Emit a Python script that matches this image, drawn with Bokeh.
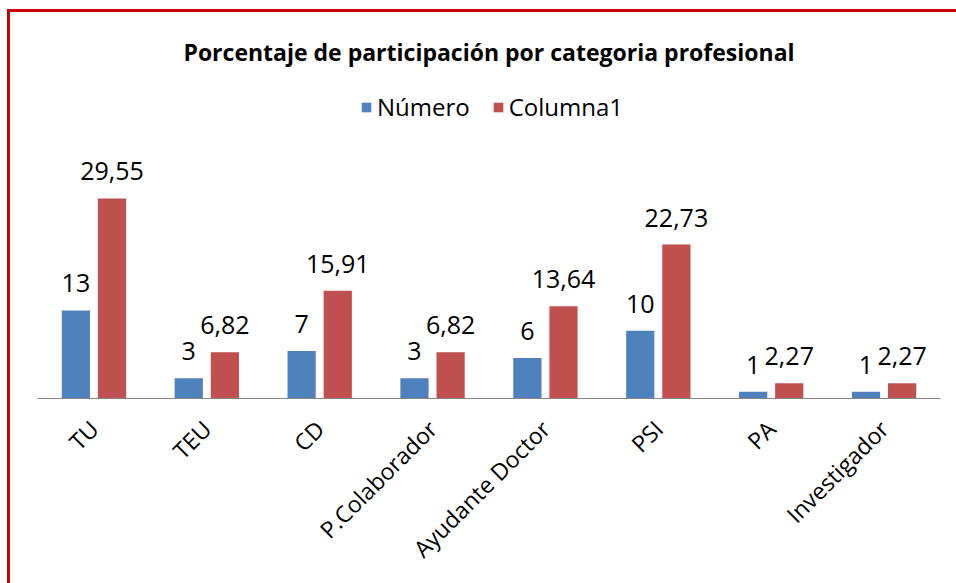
from bokeh.plotting import figure
from bokeh.models import ColumnDataSource, FactorRange
from bokeh.transform import dodge
from bokeh.core.properties import value
from bokeh.embed import file_html
from bokeh.resources import INLINE
import math

categories = ["TU", "TEU", "CD", "P.Colaborador", "Ayudante Doctor", "PSI", "PA", "Investigador"]
numero = [13, 3, 7, 3, 6, 10, 1, 1]
columna1 = [29.55, 6.82, 15.91, 6.82, 13.64, 22.73, 2.27, 2.27]

def fmt(v):
    s = ("%.2f" % v) if isinstance(v, float) else str(v)
    return s.replace(".", ",")

src = ColumnDataSource(dict(
    cat=categories,
    numero=numero,
    columna1=columna1,
    lbl_num=[fmt(v) for v in numero],
    lbl_col=[fmt(v) for v in columna1],
))

W, H = 960, 580
FL, FR, FB, FT = 27, 930, 386, 60
px_per_unit = 6.77
y_end = (FB - FT) / px_per_unit

FONT = value("Open Sans")
BLUE = "#4F81BD"
RED = "#C0504D"

p = figure(x_range=FactorRange(*categories), y_range=(0, y_end),
           width=W, height=H, output_backend="svg", toolbar_location=None,
           min_border_left=FL, min_border_right=W - FR,
           min_border_bottom=H - FB, min_border_top=FT,
           title="Porcentaje de participación por categoria profesional")
p.styles = {"margin-top": "12px", "margin-left": "10px",
            "box-shadow": "-3px -3px 0px 0px #CC0000"}

p.title.text_font = "Open Sans"
p.title.text_font_style = "bold"
p.title.text_font_size = "23px"
p.title.align = "center"
p.title.text_color = "#000000"

p.vbar(x=dodge("cat", -0.16, range=p.x_range), top="numero", width=0.25,
       source=src, color=BLUE, line_color=None, legend_label="Número")
p.vbar(x=dodge("cat", 0.16, range=p.x_range), top="columna1", width=0.25,
       source=src, color=RED, line_color=None, legend_label="Columna1")

p.text(x=dodge("cat", -0.16, range=p.x_range), y="numero", text="lbl_num", source=src,
       text_font=FONT, text_font_size="25px", text_align="center",
       text_baseline="alphabetic", y_offset=-27, text_color="#000000")
p.text(x=dodge("cat", 0.16, range=p.x_range), y="columna1", text="lbl_col", source=src,
       text_font=FONT, text_font_size="25px", text_align="center",
       text_baseline="alphabetic", y_offset=-27, text_color="#000000")

p.yaxis.visible = False
p.xgrid.visible = False
p.ygrid.visible = False
p.outline_line_color = None

ax = p.xaxis[0]
ax.axis_line_color = "#868686"
ax.axis_line_width = 1
ax.major_tick_line_color = None
ax.minor_tick_line_color = None
ax.major_label_orientation = math.pi / 4
ax.major_label_text_font = "Open Sans"
ax.major_label_text_font_size = "23px"
ax.major_label_text_color = "#000000"
ax.major_label_standoff = 20

lg = p.legend[0]
lg.orientation = "horizontal"
lg.location = (323, 275)
lg.border_line_color = None
lg.background_fill_alpha = 0
lg.padding = 0
lg.margin = 0
lg.spacing = 22
lg.glyph_width = 12
lg.glyph_height = 12
lg.label_standoff = 5
lg.label_text_font = "Open Sans"
lg.label_text_font_size = "24px"
lg.label_text_color = "#000000"

open("out.html", "w").write(file_html(p, INLINE))
